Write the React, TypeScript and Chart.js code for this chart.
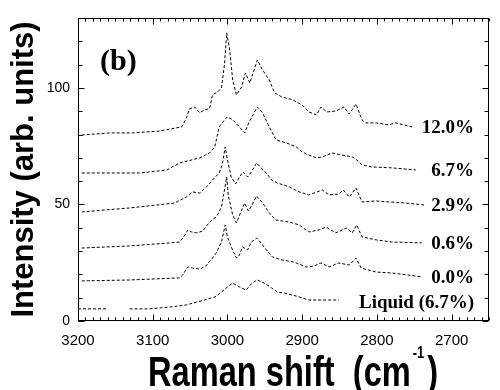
import React, { useEffect, useRef } from 'react';
import { Chart, registerables } from 'chart.js';

Chart.register(...registerables);

// ---- data (Raman shift in cm-1, intensity in arb. units) ----
const seriesNames = ['12.0%', '6.7%', '2.9%', '0.6%', '0.0%', 'Liquid (6.7%)'];

const shift120 = [3195, 3157, 3127, 3091, 3061, 3055, 3051, 3044, 3037, 3031, 3024, 3020, 3013, 3008, 3004, 3001, 2997, 2993, 2988, 2981, 2976, 2970, 2960, 2953, 2944, 2937, 2927, 2913, 2900, 2891, 2881, 2875, 2867, 2855, 2844, 2837, 2828, 2820, 2815, 2801, 2784, 2775, 2753];
const int120 = [79.8, 80.7, 80.7, 81.5, 83.3, 87, 91, 91.8, 89.3, 90.6, 91, 97, 98.3, 100, 110, 123.6, 116.3, 103.4, 97, 100.4, 106.4, 102.1, 112, 107.7, 103.4, 97.9, 96.1, 94.9, 92.7, 89.7, 88.4, 91.8, 89.7, 90.1, 91.8, 88.8, 93.1, 86.3, 85, 85, 84.1, 85, 83.3];

const shift67 = [3195, 3175, 3117, 3081, 3064, 3037, 3024, 3017, 3011, 3004, 3000, 2993, 2984, 2977, 2971, 2960, 2953, 2944, 2935, 2921, 2908, 2900, 2891, 2881, 2873, 2860, 2847, 2833, 2827, 2820, 2807, 2780, 2748];
const int67 = [63.5, 63.5, 63.5, 64.8, 67.8, 70, 72.1, 74.7, 83.3, 86.3, 87.6, 86.3, 83.3, 80.7, 85.4, 91.8, 89.3, 83.3, 77.7, 76.4, 74.7, 72.5, 71.2, 70, 70.4, 72.1, 71.2, 70.4, 69.1, 67, 66.1, 65.7, 64.8];

const shift29 = [3195, 3131, 3071, 3055, 3047, 3037, 3028, 3020, 3011, 3007, 3003, 3000, 2995, 2989, 2984, 2979, 2973, 2968, 2961, 2955, 2948, 2941, 2933, 2917, 2904, 2891, 2873, 2864, 2851, 2845, 2837, 2828, 2820, 2801, 2784, 2761, 2737];
const int29 = [46.8, 48.5, 50.6, 53.2, 55.4, 54.9, 57.5, 60.5, 63.5, 67, 74.7, 69.1, 61.8, 58.8, 61.8, 64, 61.8, 64, 67.8, 65.7, 63.5, 60.5, 59.2, 57.5, 55.4, 54.1, 56.2, 54.1, 54.5, 56.2, 53.2, 57.1, 51.1, 51.5, 51.1, 50.6, 49.8];

const shift06 = [3195, 3131, 3077, 3064, 3057, 3053, 3048, 3041, 3033, 3027, 3021, 3015, 3008, 3004, 3001, 2999, 2993, 2988, 2981, 2977, 2972, 2967, 2961, 2953, 2944, 2935, 2917, 2904, 2891, 2877, 2868, 2855, 2841, 2833, 2827, 2820, 2801, 2780, 2740];
const int06 = [31.3, 32.2, 33.5, 33.9, 36.9, 39.1, 38.2, 37.8, 38.6, 41.2, 43.3, 44.6, 48.9, 56.2, 61.8, 54.1, 45.5, 42.1, 47.6, 50.6, 47.2, 49.8, 53.6, 50.6, 46.4, 43.3, 42.5, 41.2, 38.2, 39.1, 40.3, 37.8, 39.9, 37.8, 41.2, 36.1, 34.8, 33.9, 33.5];

const shift00 = [3195, 3131, 3064, 3060, 3053, 3047, 3037, 3029, 3021, 3015, 3008, 3003, 3000, 2995, 2988, 2984, 2980, 2973, 2968, 2961, 2955, 2948, 2940, 2927, 2911, 2895, 2884, 2875, 2864, 2851, 2837, 2828, 2821, 2801, 2780, 2757, 2740];
const int00 = [17.2, 17.6, 18.5, 19.7, 23.2, 22.7, 22.3, 23.6, 26.6, 29.2, 33.9, 41.2, 36.1, 31.8, 27, 28.3, 31.8, 30.5, 33.9, 35.6, 33.5, 30.5, 27.5, 26.2, 25.3, 23.2, 23.6, 24.9, 23.2, 24.9, 24, 27, 22.7, 21, 20.6, 19.7, 18.9];

const shiftLiq = [3200, 3160, 3145, 3131, 3104, 3077, 3055, 3031, 3017, 3008, 3000, 2993, 2984, 2975, 2967, 2960, 2951, 2941, 2933, 2924, 2908, 2891, 2851];
const intLiq = [5.2, 5.2, null, 5.2, 5.2, 6, 6.9, 9, 10.3, 12.4, 14.6, 16.3, 14.6, 13.3, 16.3, 17.6, 16.3, 14.2, 12.4, 12, 10.7, 9, 9];

const shifts = [shift120, shift67, shift29, shift06, shift00, shiftLiq];
const intensities = [int120, int67, int29, int06, int00, intLiq];

const xTickLabels = [3200, 3100, 3000, 2900, 2800, 2700];
const yTickLabels = [0, 50, 100];

const xTitleMain = 'Raman shift  (cm';
const xTitleSup = '-1';
const xTitleEnd = ')';
const yTitle = 'Intensity (arb. units)';
const panelLabel = '(b)';

const SANS = '"Liberation Sans", Arial, Helvetica, sans-serif';
const SERIF = '"Liberation Serif", "Times New Roman", Times, serif';

const framePlugin = {
  id: 'frameTicks',
  afterDraw(chart: any) {
    const { ctx, chartArea: a, scales } = chart;
    const x = scales.x;
    const y = scales.y;
    ctx.save();
    ctx.strokeStyle = '#000';
    ctx.lineWidth = 1;
    const L = Math.round(a.left) + 0.5;
    const R = Math.round(a.right) - 0.5;
    const T = Math.round(a.top) + 0.5;
    const B = Math.round(a.bottom) - 0.5;
    ctx.strokeRect(L, T, R - L, B - T);
    ctx.beginPath();
    const xmin = Math.min(x.min, x.max);
    const xmax = Math.max(x.min, x.max);
    for (let v = Math.ceil(xmin / 10) * 10; v <= xmax; v += 10) {
      const px = Math.round(x.getPixelForValue(v)) + 0.5;
      const len = v % 100 === 0 ? 6 : 3;
      ctx.moveTo(px, B);
      ctx.lineTo(px, B - len);
      ctx.moveTo(px, T);
      ctx.lineTo(px, T + len);
    }
    for (let v = 0; v <= y.max; v += 10) {
      const py = Math.round(y.getPixelForValue(v)) + 0.5;
      const len = v % 50 === 0 ? 6 : 4;
      ctx.moveTo(L, py);
      ctx.lineTo(L + len, py);
      ctx.moveTo(R, py);
      ctx.lineTo(R - len, py);
    }
    ctx.stroke();

    // y axis title
    ctx.fillStyle = '#000';
    ctx.font = `bold 31px ${SANS}`;
    ctx.textAlign = 'center';
    ctx.textBaseline = 'alphabetic';
    ctx.save();
    ctx.translate(33, (a.top + a.bottom) / 2);
    ctx.rotate(-Math.PI / 2);
    ctx.fillText(yTitle, 0, 0);
    ctx.restore();

    // x axis title (taller than wide, like the original)
    const mainFont = `bold 33px ${SANS}`;
    const supFont = `bold 13px ${SANS}`;
    ctx.textAlign = 'left';
    ctx.font = mainFont;
    const w1 = ctx.measureText(xTitleMain).width;
    const w3 = ctx.measureText(xTitleEnd).width;
    ctx.font = supFont;
    const w2 = ctx.measureText(xTitleSup).width;
    const total = w1 + 2 + w2 + 3 + w3;
    const sx = Math.min(1, 290 / total);
    ctx.save();
    ctx.translate(148, 386);
    ctx.scale(sx, 1.27);
    ctx.font = mainFont;
    ctx.fillText(xTitleMain, 0, 0);
    ctx.font = supFont;
    ctx.fillText(xTitleSup, w1 + 2, -22);
    ctx.font = mainFont;
    ctx.fillText(xTitleEnd, w1 + 2 + w2 + 3, 0);
    ctx.restore();

    // panel label
    ctx.font = `bold 30px ${SERIF}`;
    ctx.textAlign = 'left';
    ctx.fillText(panelLabel, a.left + 22, a.top + 52);

    // series labels, right-aligned, at the level of each series' last point
    ctx.font = `bold 19px ${SERIF}`;
    ctx.textAlign = 'right';
    ctx.textBaseline = 'middle';
    const labelX = x.getPixelForValue(2670);
    seriesNames.forEach((name, i) => {
      const vals = intensities[i];
      const last = vals[vals.length - 1] as number;
      const py = y.getPixelForValue(last) + (i === 5 ? 3 : 1);
      ctx.fillText(name, labelX, py);
    });
    ctx.restore();
  },
};

export default function App() {
  const ref = useRef<HTMLCanvasElement | null>(null);

  useEffect(() => {
    document.body.style.margin = '0';
    const canvas = ref.current;
    if (!canvas) return;
    const datasets = seriesNames.map((name, i) => ({
      label: name,
      data: shifts[i].map((s, j) => ({ x: s, y: intensities[i][j] })),
      borderColor: '#000',
      backgroundColor: '#000',
      borderWidth: 1,
      borderDash: [3, 2],
      pointRadius: 0,
      tension: 0,
      spanGaps: false,
      fill: false,
    }));
    const chart = new Chart(canvas, {
      type: 'line',
      data: { datasets },
      options: {
        animation: false,
        responsive: false,
        maintainAspectRatio: false,
        devicePixelRatio: 1,
        layout: { padding: { top: 18, right: 11, left: 0, bottom: 0 } },
        plugins: {
          legend: { display: false },
          tooltip: { enabled: false },
          title: { display: false },
        },
        scales: {
          x: {
            type: 'linear',
            reverse: true,
            min: 2650,
            max: 3200,
            grid: { display: false, drawTicks: false },
            border: { display: false },
            ticks: {
              stepSize: 100,
              includeBounds: false,
              autoSkip: false,
              maxRotation: 0,
              padding: 11,
              color: '#000',
              font: { family: SANS, size: 15 },
              callback: (v: any) => (xTickLabels.includes(Math.round(Number(v))) ? String(Math.round(Number(v))) : ''),
            },
            afterFit: (s: any) => {
              s.height = 69;
            },
          },
          y: {
            type: 'linear',
            min: 0,
            max: 130,
            grid: { display: false, drawTicks: false },
            border: { display: false },
            ticks: {
              stepSize: 50,
              autoSkip: false,
              padding: 8,
              color: '#000',
              font: { family: SANS, size: 14 },
              callback: (v: any) => (yTickLabels.includes(Math.round(Number(v))) ? String(Math.round(Number(v))) : ''),
            },
            afterFit: (s: any) => {
              s.width = 78;
            },
          },
        },
      },
      plugins: [framePlugin],
    });
    return () => chart.destroy();
  }, []);

  return (
    <div style={{ position: 'absolute', left: 0, top: 0, width: 500, height: 390, background: '#fff' }}>
      <canvas ref={ref} width={500} height={390} style={{ width: 500, height: 390, display: 'block' }} />
    </div>
  );
}
